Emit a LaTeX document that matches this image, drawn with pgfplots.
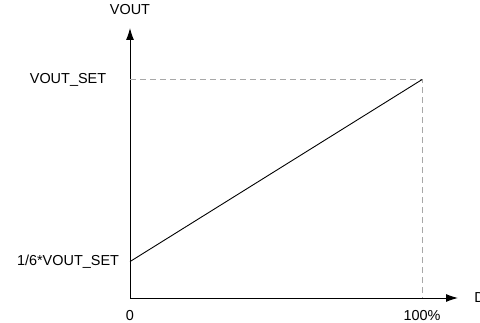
\documentclass[border=0pt]{standalone}
\usepackage{pgfplots}
\pgfplotsset{compat=1.18}
\usepackage{fontspec}
\setmainfont{Liberation Sans}
\usetikzlibrary{arrows.meta}
\definecolor{dashgray}{HTML}{A8A8A8}
\begin{document}
\fontsize{14.5}{17}\selectfont
\begin{tikzpicture}
\useasboundingbox (0,0) rectangle (480bp,323bp);
\clip (0,0) rectangle (480bp,323bp);
\begin{axis}[
  at={(130bp,25bp)}, anchor=origin,
  scale only axis,
  width=328bp, height=270bp,
  xmin=0, xmax=1.123, ymin=0, ymax=1.236,
  axis lines=left,
  axis line style={line width=1pt, -{Latex[length=12bp,width=8bp]}},
  major tick length=0pt,
  xtick={0,1}, xticklabels={0,100\%},
  ytick={0.16667,1}, yticklabels={1/6*VOUT\_SET,VOUT\_SET},
  xticklabel style={anchor=center, yshift=-18bp},
  yticklabel style={anchor=center, xshift=-62bp},
  /pgf/number format/assume math mode=true,
  ticklabel style={font=\fontsize{14.5}{17}\selectfont},
  clip=false,
]
\addplot[dashgray, line width=1pt, dash pattern=on 6bp off 4bp] coordinates {(0,1) (1,1) (1,0)};
\addplot[black, line width=0.9pt] coordinates {(0,0.16667) (1,1)};
\node[anchor=center] at (axis cs:0,1.32) {VOUT};
\node[anchor=west, inner sep=0pt] at (axis cs:1.178,0) {D};
\end{axis}
\end{tikzpicture}
\end{document}
